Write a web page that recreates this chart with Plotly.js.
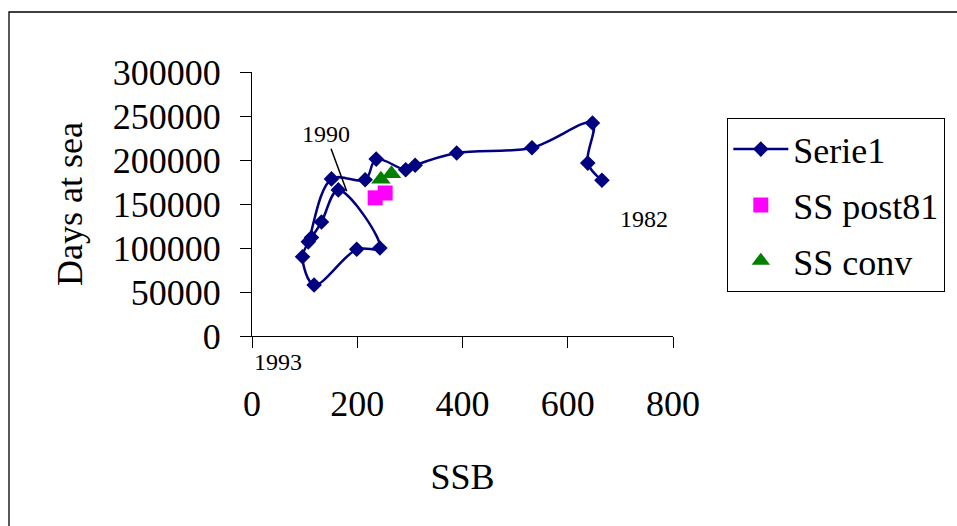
<!DOCTYPE html>
<html>
<head>
<meta charset="utf-8">
<script src="https://cdn.plot.ly/plotly-3.0.1.min.js"></script>
<style>
  html, body { margin: 0; padding: 0; background: #ffffff; }
  #chart { width: 957px; height: 526px; }
</style>
</head>
<body>
<div id="chart"></div>
<script>
// Serie1: SSB vs days at sea (path as drawn)
const serieSSB  = [665, 638, 647, 532, 389, 310, 292, 236, 215, 151, 107, 96, 118, 199, 243, 164, 132, 113];
const serieDays = [177000, 196500, 242000, 214000, 208000, 194000, 189000, 201000, 177500, 178500,
                   107000, 90000, 58000, 98500, 100000, 166000, 129500, 112000];

// SS post81
const post81SSB  = [234, 253];
const post81Days = [157000, 162500];

// SS conv
const convSSB  = [245, 265];
const convDays = [178000, 184500];

const xTicks = [0, 200, 400, 600, 800];
const yTicks = [0, 50000, 100000, 150000, 200000, 250000, 300000];

const FONT = "Liberation Serif";

const traces = [
  {
    name: "Serie1", x: serieSSB, y: serieDays, type: "scatter", mode: "lines+markers",
    line: { color: "#000080", width: 2.5, shape: "spline", smoothing: 1 },
    marker: { symbol: "diamond", size: 12, color: "#000080" },
    legendgroup: "a", cliponaxis: false
  },
  {
    name: "SS post81", x: post81SSB, y: post81Days, type: "scatter", mode: "markers",
    marker: { symbol: "square", size: 15, color: "#FF00FF" },
    legendgroup: "b", cliponaxis: false
  },
  {
    name: "SS conv", x: convSSB, y: convDays, type: "scatter", mode: "markers",
    marker: { symbol: "triangle-up", size: 17, color: "#008000" },
    legendgroup: "c", cliponaxis: false
  }
];

const layout = {
  width: 957, height: 526,
  margin: { l: 252, r: 284, t: 72, b: 190, autoexpand: false },
  paper_bgcolor: "#ffffff", plot_bgcolor: "#ffffff",
  font: { family: FONT, size: 36, color: "#000000" },
  showlegend: true,
  legend: {
    x: 1.129, y: 0.825, xanchor: "left", yanchor: "top",
    bordercolor: "#000000", borderwidth: 1, bgcolor: "#ffffff",
    font: { family: FONT, size: 36, color: "#000000" },
    itemwidth: 55, traceorder: "grouped", tracegroupgap: 6
  },
  xaxis: {
    range: [0, 800], tickvals: xTicks, ticktext: xTicks.map(String),
    showgrid: false, zeroline: false, showline: true, linecolor: "#000000", linewidth: 1,
    ticks: "outside", ticklen: 11, tickcolor: "#000000", tickwidth: 1,
    ticklabelstandoff: 25,
    tickfont: { family: FONT, size: 36, color: "#000000" },
    title: { text: "SSB", font: { family: FONT, size: 36, color: "#000000" }, standoff: 40 }
  },
  yaxis: {
    range: [0, 300000], tickvals: yTicks, ticktext: yTicks.map(String),
    showgrid: false, zeroline: false, showline: true, linecolor: "#000000", linewidth: 1,
    ticks: "outside", ticklen: 11, tickcolor: "#000000", tickwidth: 1,
    ticklabelstandoff: 12,
    tickfont: { family: FONT, size: 36, color: "#000000" },
    title: { text: "Days at sea", font: { family: FONT, size: 36, color: "#000000" }, standoff: 19 }
  },
  annotations: [
    { x: 180, y: 164400, xref: "x", yref: "y", text: "1990", showarrow: true,
      arrowhead: 0, arrowwidth: 1.5, arrowcolor: "#000000", ax: -21, ay: -57,
      font: { family: FONT, size: 24, color: "#000000" } },
    { x: 745, y: 133500, xref: "x", yref: "y", text: "1982", showarrow: false,
      font: { family: FONT, size: 24, color: "#000000" } },
    { x: (277.5 - 252) / 421, y: (336 - 362) / 264, xref: "paper", yref: "paper",
      xanchor: "center", yanchor: "middle", text: "1993", showarrow: false,
      font: { family: FONT, size: 24, color: "#000000" } }
  ],
  shapes: [
    { type: "rect", xref: "paper", yref: "paper",
      x0: (9 - 252) / 421, x1: (970 - 252) / 421,
      y0: (336 - 540) / 264, y1: (336 - 12) / 264,
      line: { color: "#000000", width: 1.3 }, fillcolor: "rgba(0,0,0,0)", layer: "below" }
  ]
};

Plotly.newPlot("chart", traces, layout, { displayModeBar: false, staticPlot: true });
</script>
</body>
</html>
